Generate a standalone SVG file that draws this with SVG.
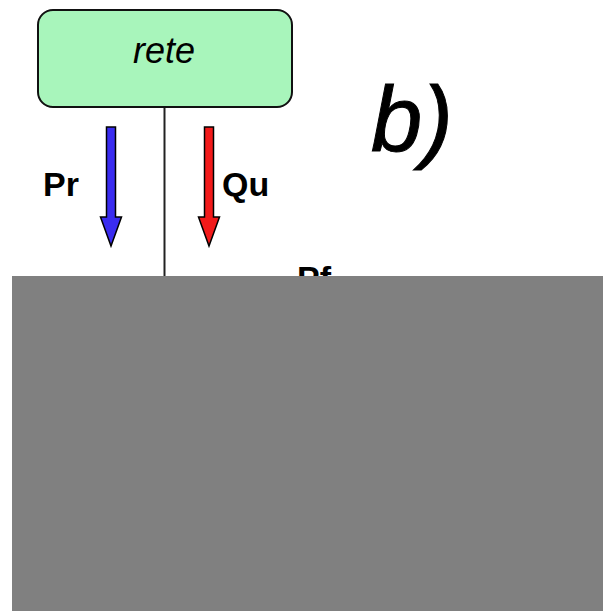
<svg xmlns="http://www.w3.org/2000/svg" width="603" height="611" viewBox="0 0 603 611">
<style>
.lbl{font-family:"Liberation Sans",Arial,sans-serif;font-weight:bold;font-size:34px;fill:#000}
.arrow{stroke:#000;stroke-width:1.5;stroke-linejoin:miter}
</style>
<rect width="603" height="611" fill="#fff"/>
<g id="connectors">
<line x1="164.5" y1="107" x2="164.5" y2="280" stroke="#222" stroke-width="2"/>
</g>
<g id="rete">
<rect x="38" y="10" width="254" height="97" rx="15" fill="#a8f5bb" stroke="#111" stroke-width="2"/>
<text x="164" y="63" text-anchor="middle" font-family="Liberation Sans,Arial,sans-serif" font-style="italic" font-size="36">rete</text>
</g>
<g id="Pr">
<path class="arrow" d="M106.5 127 H115.5 V217 H121.5 L111 246 L100.5 217 H106.5 Z" fill="#3a2cf0"/>
<text class="lbl" x="43" y="196">Pr</text>
</g>
<g id="Qu">
<path class="arrow" d="M204.5 127 H213.5 V217 H219.5 L209 246 L198.5 217 H204.5 Z" fill="#f21a1a"/>
<text class="lbl" x="222" y="196">Qu</text>
</g>
<g id="Pf">
<text class="lbl" x="297" y="290">Pf</text>
</g>
<g id="label-b">
<text x="371" y="151" font-family="Liberation Sans,Arial,sans-serif" font-style="italic" font-size="92" stroke="#000" stroke-width="1">b)</text>
</g>
<rect id="mask" x="12" y="276" width="591" height="335" fill="#808080"/>
</svg>
